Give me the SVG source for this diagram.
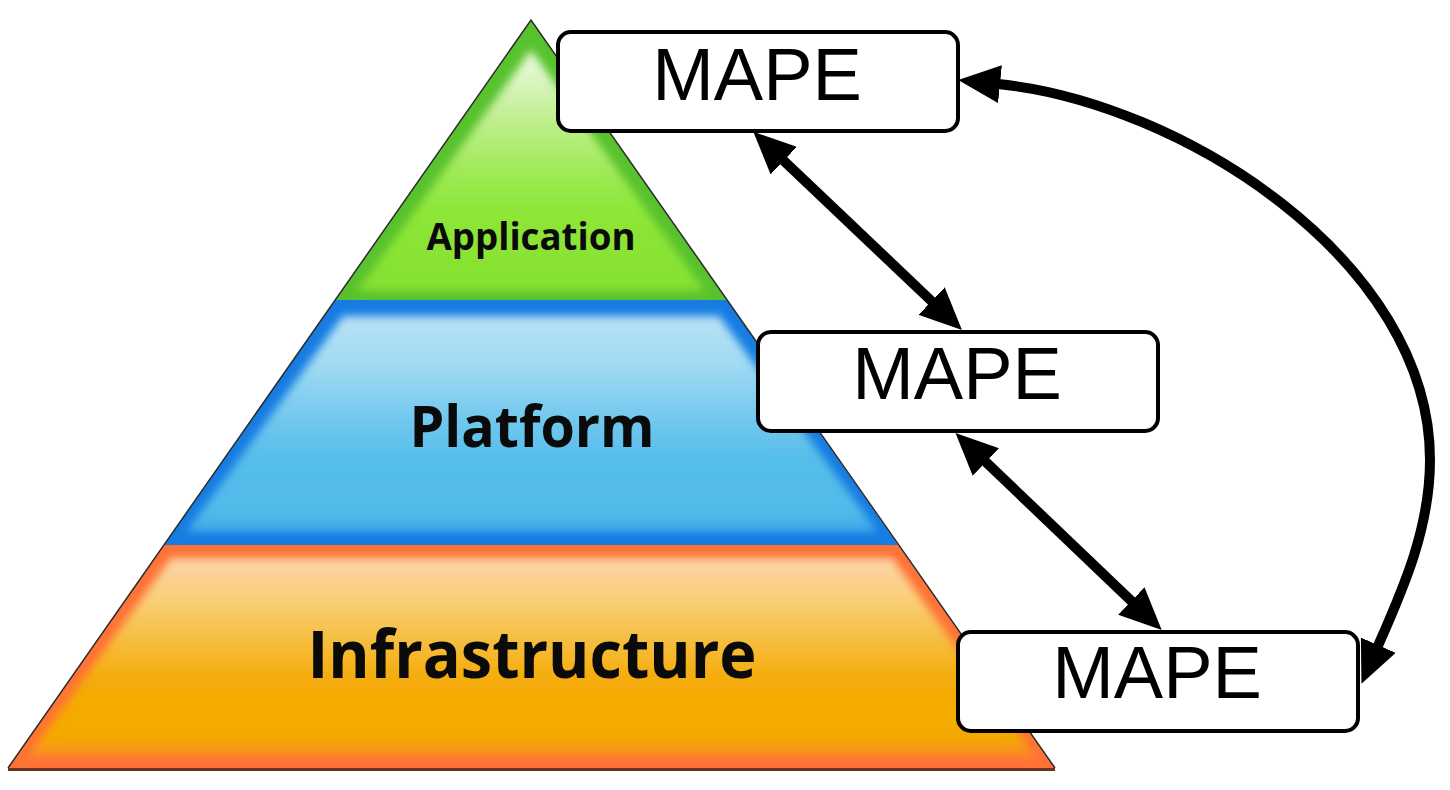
<svg xmlns="http://www.w3.org/2000/svg" width="1450" height="790" viewBox="0 0 1450 790">
<style>
.box rect{fill:#fff;stroke:#000;stroke-width:4}
.box text{font-family:"Liberation Sans",Arial,sans-serif;font-size:74px;fill:#000;text-anchor:middle}
.lbl{font-family:"Open Sans","DejaVu Sans",sans-serif;font-weight:bold;fill:#0a0a0a;text-anchor:middle}
.conn{fill:none;stroke:#000;stroke-width:10;marker-start:url(#ah);marker-end:url(#ah)}
</style>
<defs>
<marker id="ah" markerUnits="userSpaceOnUse" markerWidth="44" markerHeight="38" viewBox="0 0 44 38" refX="2" refY="19" orient="auto-start-reverse"><path d="M0,0 L42,19 L0,38 z" fill="#000"/></marker>
<filter id="soft" x="-10%" y="-10%" width="120%" height="120%"><feGaussianBlur stdDeviation="4"/></filter>
<clipPath id="pyr"><polygon points="531,20 1055,768 8,768"/></clipPath>
<linearGradient id="gApp" gradientUnits="userSpaceOnUse" x1="0" y1="50" x2="0" y2="292">
<stop offset="0" stop-color="#f0fae6"/><stop offset="0.25" stop-color="#c6f09a"/><stop offset="0.5" stop-color="#a0ea58"/><stop offset="0.66" stop-color="#8ee638"/><stop offset="1" stop-color="#86e030"/>
</linearGradient>
<linearGradient id="gPlat" gradientUnits="userSpaceOnUse" x1="0" y1="316" x2="0" y2="535">
<stop offset="0" stop-color="#b8e2f6"/><stop offset="0.2" stop-color="#a5dcf3"/><stop offset="0.47" stop-color="#72c8ee"/><stop offset="0.66" stop-color="#55bdea"/><stop offset="0.9" stop-color="#50bbea"/><stop offset="1" stop-color="#3aa5e8"/>
</linearGradient>
<linearGradient id="gInf" gradientUnits="userSpaceOnUse" x1="0" y1="558" x2="0" y2="758">
<stop offset="0" stop-color="#fdd5aa"/><stop offset="0.21" stop-color="#f9cf78"/><stop offset="0.41" stop-color="#f6be40"/><stop offset="0.61" stop-color="#f5ab08"/><stop offset="0.9" stop-color="#f5a900"/><stop offset="1" stop-color="#fb8a28"/>
</linearGradient>
</defs>
<rect width="1450" height="790" fill="#fff"/>
<g id="pyramid">
<g clip-path="url(#pyr)">
<g id="layer-application">
<polygon points="531,20 727,300 335,300" fill="#58c22e"/>
<polygon points="531,50 705,291 357,291" fill="url(#gApp)" filter="url(#soft)"/>
</g>
<g id="layer-platform">
<polygon points="335,300 727,300 898,545 164,545" fill="#167ce2"/>
<polygon points="343,316 719,316 878,532 186,532" fill="url(#gPlat)" filter="url(#soft)"/>
</g>
<g id="layer-infrastructure">
<polygon points="164,545 898,545 1055,768 8,768" fill="#ff7236"/>
<polygon points="171,558 892,558 1035,756 28,756" fill="url(#gInf)" filter="url(#soft)"/>
</g>
</g>
<polyline points="8,768 531,20 1055,768" fill="none" stroke="#2a2a2a" stroke-width="1.5"/>
<line x1="8" y1="769.5" x2="1055" y2="769.5" stroke="#6b3420" stroke-width="3"/>
<text class="lbl" x="531" y="250" font-size="38" textLength="209" lengthAdjust="spacingAndGlyphs">Application</text>
<text class="lbl" x="532" y="447" font-size="58" textLength="245" lengthAdjust="spacingAndGlyphs">Platform</text>
<text class="lbl" x="532" y="678" font-size="67" textLength="449" lengthAdjust="spacingAndGlyphs">Infrastructure</text>
</g>
<g id="mape-top" class="box">
<rect x="558" y="32" width="400" height="99" rx="13"/>
<text x="757" y="100">MAPE</text>
</g>
<g id="mape-middle" class="box">
<rect x="758" y="332" width="400" height="99" rx="13"/>
<text x="957" y="399">MAPE</text>
</g>
<g id="mape-bottom" class="box">
<rect x="958" y="632" width="400" height="99" rx="13"/>
<text x="1157" y="698">MAPE</text>
</g>
<g id="connectors">
<path class="conn" d="M782.3,159.3 L933,302.5"/>
<path class="conn" d="M984.4,460.6 L1132.8,602.4"/>
<path class="conn" d="M998,84 C1180,102 1430,260 1430,460 C1430,530 1401.6,592 1377.5,647"/>
</g>
</svg>
